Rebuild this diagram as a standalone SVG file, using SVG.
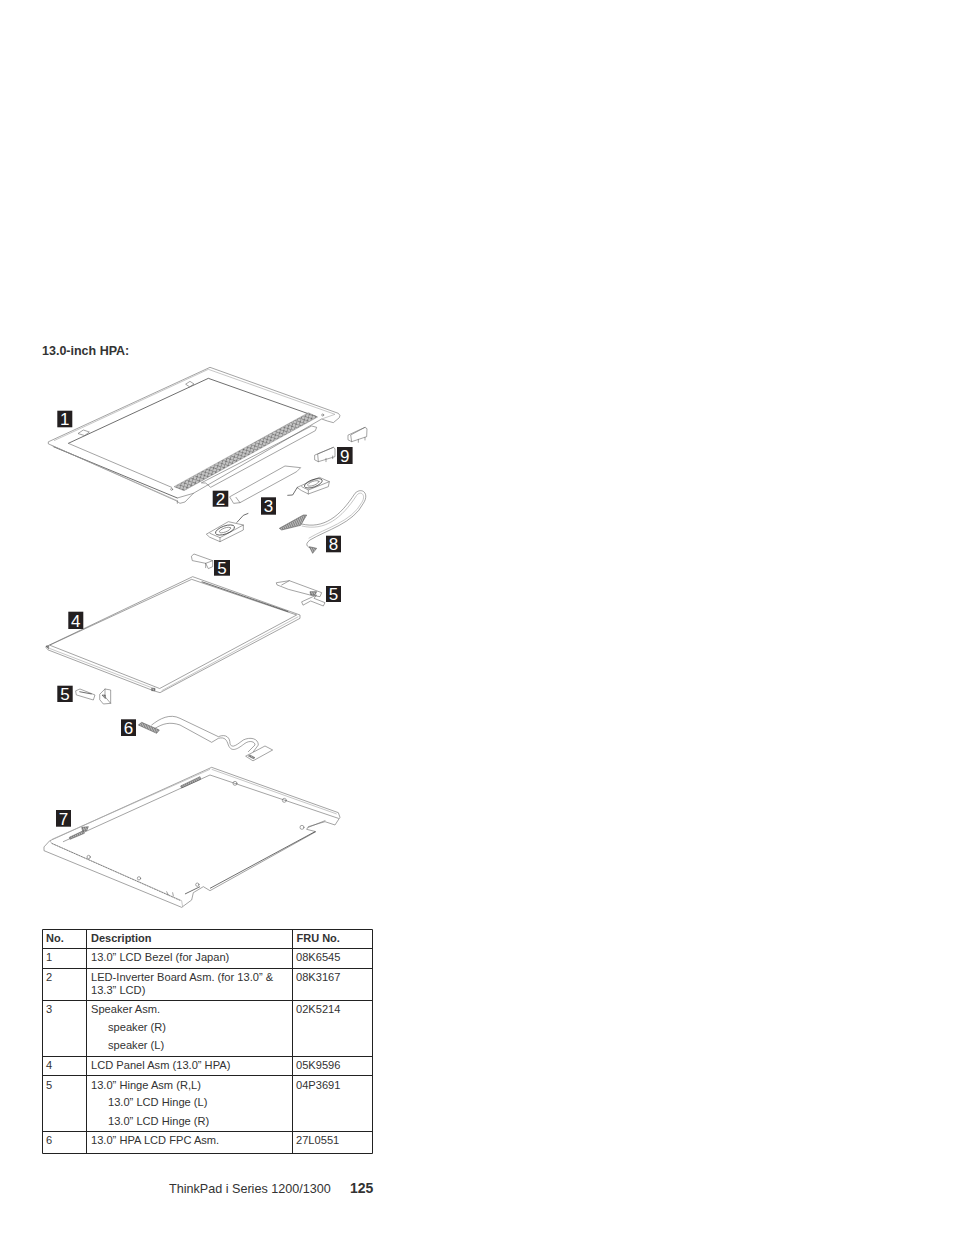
<svg xmlns="http://www.w3.org/2000/svg" width="954" height="1235" viewBox="0 0 954 1235">
<style>
text{font-family:"Liberation Sans",Arial,sans-serif;fill:#333}
.t{font-size:11.12px}
.h{font-size:11px;font-weight:bold}
.l{fill:none;stroke:#666;stroke-width:1.8;stroke-linejoin:round;stroke-linecap:round}
.d{fill:none;stroke:#3a3a3a;stroke-width:2.2;stroke-linejoin:round}
.g{fill:none;stroke:#aaa;stroke-width:2}
.k{fill:url(#hatch);stroke:#444;stroke-width:1.5}
.b{fill:#231f20}
.n{font-size:17px;fill:#fff;text-anchor:middle}
.r{stroke:#222;stroke-width:1;fill:none}
</style>
<defs>
<pattern id="mesh" width="14" height="14" patternUnits="userSpaceOnUse" patternTransform="rotate(-28)">
<rect width="14" height="14" fill="#c4c4c4"/>
<path d="M0 0L14 14M14 0L0 14" stroke="#555" stroke-width="1.8"/>
</pattern>
<pattern id="hatch" width="5" height="5" patternUnits="userSpaceOnUse" patternTransform="rotate(20)">
<rect width="5" height="5" fill="#bbb"/>
<path d="M0 0V5" stroke="#333" stroke-width="2.2"/>
</pattern>
</defs>
<rect width="954" height="1235" fill="#fff"/>
<text id="heading" x="42" y="355" style="font-size:12.5px;font-weight:bold">13.0-inch HPA:</text>

<g id="parts-top" transform="translate(40 370) scale(.33333)">
<g id="bezel">
<path class="l" d="M26 215L510 -8L895 130Q903 136 898 143L880 158L862 153L845 147L460 370L435 396L420 400L408 392L26 222Z"/>
<path class="g" d="M42 212L505 -2L885 133L845 147"/>
<path class="d" d="M85 220L505 25L830 140"/>
<path class="l" d="M85 220L395 352"/>
<path class="d" d="M40 230L412 384"/>
<path class="g" d="M34 226L412 392"/>
<path class="l" d="M412 384L460 370M412 392V400"/>
<path fill="url(#mesh)" stroke="#666" d="M402 350L805 128L833 141L432 362Z"/>
<path class="l" d="M115 190L130 180L148 186L135 196ZM438 42L450 34L462 42L450 50Z"/>
<circle class="l" cx="848" cy="135" r="3"/>
<circle class="l" cx="395" cy="358" r="3"/>
</g>
<g id="strip">
<path class="l" d="M485 338L815 168L830 172L826 182L512 352L498 340Z"/>
</g>
<g id="board-2">
<path class="l" d="M570 380L735 288L782 293L770 305L600 398L582 400ZM600 398L588 382"/>
</g>
<g id="speaker-r">
<path class="l" d="M772 352L838 322L868 335L865 350L805 372L785 362ZM785 350L805 360L868 335M805 360V372"/>
<ellipse class="d" cx="820" cy="340" rx="28" ry="11" transform="rotate(-20 820 340)"/>
<ellipse class="l" cx="820" cy="340" rx="18" ry="6" transform="rotate(-20 820 340)"/>
<path class="d" d="M772 352L758 375L742 376"/>
</g>
<g id="speaker-l">
<path class="l" d="M500 492L565 455L610 465L610 480L540 515L510 502ZM510 490L540 503L610 465M540 503V515"/>
<ellipse class="d" cx="555" cy="480" rx="30" ry="12" transform="rotate(-20 555 480)"/>
<ellipse class="l" cx="555" cy="480" rx="18" ry="6" transform="rotate(-20 555 480)"/>
<path class="d" d="M590 458L610 436L625 430"/>
</g>
<g id="cable-8">
<path class="k" d="M718 475L790 435L800 435L782 466L725 480Z"/>
<path class="l" d="M785 462C850 478 900 440 945 370C965 350 990 370 970 400C940 460 860 480 810 510C790 525 805 535 820 535"/>
<path class="g" d="M785 468C855 484 905 445 950 376C962 360 980 375 965 398C935 455 855 475 806 505"/>
<path class="k" d="M808 530L830 535L818 550Z"/>
</g>
<g id="cover-9">
<path class="l" d="M925 195L975 172L981 176L980 200L935 215L925 210ZM935 215L932 195L975 172M955 208V217M975 202V210"/>
<path class="l" d="M825 255L880 232L885 236L885 260L835 275L825 270ZM835 275L833 252L880 232M858 265V275M878 258V266"/>
</g>
</g>

<g id="parts-mid" transform="translate(40 540) scale(.33333)">
<g id="hinge-top">
<path class="l" d="M455 48L462 42L518 62L518 80L505 86L497 70L458 62ZM497 70L518 62M497 70V83"/>
</g>
<g id="panel-4">
<path class="l" d="M18 320L458 110L780 225L780 235L360 458L340 452L25 330Z"/>
<path class="l" d="M30 315L455 118L770 225L360 445Z"/>
<path class="g" d="M28 325L340 445M365 452L775 230"/>
<path class="d" d="M485 125L745 215"/>
<path class="k" d="M335 445L345 445L345 452L335 452ZM18 318L26 318L26 326Z"/>
</g>
<g id="hinge-right">
<path class="l" d="M710 128L748 122L845 158L840 170L810 165L745 148L712 135ZM725 135L748 122"/>
<path class="k" d="M810 155L830 155L825 165L812 165Z"/>
<path class="l" d="M786 185L830 165L822 175L855 188L850 198L812 183L790 195Z"/>
</g>
<g id="hinge-left">
<path class="l" d="M108 452L120 447L165 465L160 480L110 465Z"/>
<path class="d" d="M118 455L155 462"/>
<path class="l" d="M180 462L195 447L212 450L212 490L190 492L180 480ZM195 447V470L212 490"/>
<path class="k" d="M186 465L196 465L196 476Z"/>
</g>
</g>

<g id="parts-low" transform="translate(40 710) scale(.33333)">
<g id="fpc-6">
<path class="k" d="M295 45L305 37L358 60L350 70Z"/>
<path class="l" d="M335 45C360 25 390 10 420 25L535 80C560 70 570 85 570 100C575 120 595 100 610 90C630 80 655 85 655 105L640 125"/>
<path class="l" d="M345 55C370 40 390 35 420 45L515 97L535 85C555 80 560 90 565 105C575 130 595 115 615 100C630 90 645 95 645 105L625 125"/>
<path class="l" d="M618 138L675 108L698 120L640 152Z"/>
<path class="k" d="M625 138L640 146L645 143L630 135Z"/>
</g>
<g id="cover-7">
<path class="l" d="M30 392L515 172L895 308L900 322L885 345L855 335L805 350L800 358L828 365L510 542L490 530L460 548L455 570L425 592L12 422L12 412Z"/>
<path class="g" d="M30 392L35 400L425 572L428 592M36 388L510 178M515 178L890 312"/>
<path class="l" d="M70 395L510 195L895 325"/>
<path class="d" stroke-dasharray="6 2" stroke-opacity=".7" d="M35 400L422 572"/>
<path class="d" d="M510 535L825 365M435 552L480 530"/>
<path class="k" d="M88 382L130 362L133 370L90 388Z"/>
<path class="k" d="M125 352L145 350L140 362L128 364Z"/>
<path class="k" d="M422 228L480 200L482 208L425 234Z"/>
<circle class="l" cx="146" cy="441" r="5"/>
<circle class="l" cx="297" cy="505" r="5"/>
<circle class="l" cx="585" cy="220" r="6"/>
<circle class="l" cx="733" cy="271" r="6"/>
<circle class="l" cx="786" cy="352" r="6"/>
<circle class="l" cx="472" cy="524" r="5"/>
<path class="l" d="M380 545L385 555M398 548L400 558M805 352L855 332"/>
</g>
</g>

<g id="labels">
<g id="label-1"><rect class="b" x="57.3" y="410.7" width="15" height="16.6"/><text class="n" x="64.8" y="425">1</text></g>
<g id="label-9"><rect class="b" x="337" y="447" width="15.6" height="17"/><text class="n" x="344.8" y="461.5">9</text></g>
<g id="label-2"><rect class="b" x="212.7" y="490.7" width="15.6" height="16"/><text class="n" x="220.5" y="504.5">2</text></g>
<g id="label-3"><rect class="b" x="261" y="497.3" width="15" height="17.4"/><text class="n" x="268.5" y="512">3</text></g>
<g id="label-8"><rect class="b" x="326" y="535.7" width="15" height="16.6"/><text class="n" x="333.5" y="550">8</text></g>
<g id="label-5a"><rect class="b" x="214" y="560" width="16" height="15.7"/><text class="n" x="222" y="573.5">5</text></g>
<g id="label-5b"><rect class="b" x="326" y="586" width="15" height="16"/><text class="n" x="333.5" y="600">5</text></g>
<g id="label-4"><rect class="b" x="68.3" y="611.7" width="15" height="17.3"/><text class="n" x="75.8" y="626.5">4</text></g>
<g id="label-5c"><rect class="b" x="57.3" y="685.7" width="15.4" height="16.3"/><text class="n" x="65" y="700">5</text></g>
<g id="label-6"><rect class="b" x="121" y="719.3" width="15" height="16.7"/><text class="n" x="128.5" y="734">6</text></g>
<g id="label-7"><rect class="b" x="56" y="810" width="15" height="16.7"/><text class="n" x="63.5" y="824.5">7</text></g>
</g>

<g id="table">
<path class="r" d="M42.5 929.5H372.5V1153.5H42.5ZM86.5 929.5V1153.5M292.5 929.5V1153.5M42.5 948.5H372.5M42.5 968.5H372.5M42.5 1000.5H372.5M42.5 1056.5H372.5M42.5 1075.5H372.5M42.5 1131.5H372.5"/>
<text class="h" x="46" y="942">No.</text><text class="h" x="91" y="942">Description</text><text class="h" x="296.5" y="942">FRU No.</text>
<text class="t" x="46" y="961">1</text><text class="t" x="91" y="961">13.0” LCD Bezel (for Japan)</text><text class="t" x="296" y="961">08K6545</text>
<text class="t" x="46" y="981">2</text><text class="t" x="91" y="981">LED-Inverter Board Asm. (for 13.0” &amp;</text><text class="t" x="91" y="994">13.3” LCD)</text><text class="t" x="296" y="981">08K3167</text>
<text class="t" x="46" y="1013">3</text><text class="t" x="91" y="1013">Speaker Asm.</text><text class="t" x="108" y="1031">speaker (R)</text><text class="t" x="108" y="1049">speaker (L)</text><text class="t" x="296" y="1013">02K5214</text>
<text class="t" x="46" y="1069">4</text><text class="t" x="91" y="1069">LCD Panel Asm (13.0” HPA)</text><text class="t" x="296" y="1069">05K9596</text>
<text class="t" x="46" y="1089">5</text><text class="t" x="91" y="1089">13.0” Hinge Asm (R,L)</text><text class="t" x="108" y="1106">13.0” LCD Hinge (L)</text><text class="t" x="108" y="1125">13.0” LCD Hinge (R)</text><text class="t" x="296" y="1089">04P3691</text>
<text class="t" x="46" y="1144">6</text><text class="t" x="91" y="1144">13.0” HPA LCD FPC Asm.</text><text class="t" x="296" y="1144">27L0551</text>
</g>
<text id="footer" x="169" y="1193" style="font-size:12.6px">ThinkPad i Series 1200/1300</text>
<text id="page" x="350" y="1193" style="font-size:14px;font-weight:bold">125</text>
</svg>
